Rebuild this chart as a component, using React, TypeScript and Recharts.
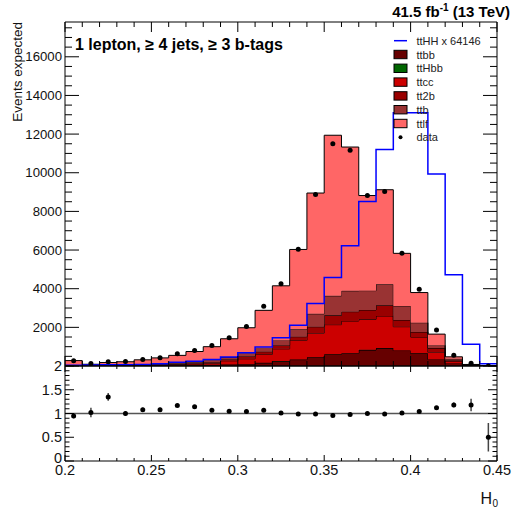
import { ComposedChart, Area, Line, XAxis, YAxis, ReferenceLine, ErrorBar } from "recharts"

const FONT = '"Liberation Sans", Arial, Helvetica, sans-serif'

// bin edges of H0 (25 bins)
const edges = [
  0.2, 0.21, 0.22, 0.23, 0.24, 0.25, 0.26, 0.27, 0.28, 0.29, 0.3, 0.31, 0.32,
  0.33, 0.34, 0.35, 0.36, 0.37, 0.38, 0.39, 0.4, 0.41, 0.42, 0.43, 0.44, 0.45,
]
const xLabels = [0.2, 0.25, 0.3, 0.35, 0.4, 0.45]
const yLabels = [2000, 4000, 6000, 8000, 10000, 12000, 14000, 16000]
const ratioLabels = [0, 0.5, 1, 1.5, 2]

// stacked backgrounds, per bin
const ttbb = [10, 8, 10, 12, 15, 20, 25, 35, 60, 80, 95, 165, 250, 330, 450, 600, 660, 830, 925, 800, 650, 340, 130, 20, 3]
const ttHbb = [0, 0, 0, 0, 0, 0, 0, 0, 1, 1, 1, 2, 3, 4, 5, 6, 6, 6, 6, 5, 4, 2, 1, 0, 0]
const ttcc = [15, 10, 15, 18, 25, 35, 50, 70, 84, 189, 279, 433, 637, 991, 1245, 1534, 1664, 1579, 1659, 1230, 846, 375, 104, 20, 3]
const tt2b = [5, 4, 5, 8, 10, 15, 20, 25, 55, 70, 135, 140, 190, 190, 330, 480, 480, 485, 550, 345, 260, 208, 65, 10, 2]
const ttb = [15, 13, 15, 17, 25, 30, 45, 60, 85, 120, 140, 170, 245, 385, 670, 1010, 1080, 1000, 1090, 730, 480, 140, 70, 10, 2]
const ttlf = [235, 55, 135, 165, 245, 320, 410, 560, 715, 950, 1330, 1970, 2825, 4130, 6250, 8310, 7440, 4920, 4890, 2720, 1560, 585, 105, 20, 2]

// signal, scaled x 64146
const ttHH = [40, 50, 60, 70, 80, 110, 200, 250, 340, 470, 680, 980, 1460, 2110, 3230, 4580, 6220, 8510, 11200, 13100, 13100, 9930, 4720, 1120, 110]

const data = [270, 130, 220, 230, 340, 425, 630, 800, 1065, 1465, 2050, 3090, 4250, 6040, 8870, 11500, 11160, 8820, 9030, 5840, 3970, 1860, 560, 145, 6]

const ratio = [0.95, 1.02, 1.35, 1.0, 1.08, 1.08, 1.17, 1.14, 1.07, 1.05, 1.04, 1.07, 1.01, 0.99, 0.99, 0.96, 0.98, 1.0, 0.99, 1.01, 1.04, 1.12, 1.18, 1.18, 0.5]
const ratioErr = [0.05, 0.1, 0.08, 0.05, 0.04, 0.04, 0.03, 0.03, 0.03, 0.02, 0.02, 0.02, 0.015, 0.01, 0.01, 0.01, 0.01, 0.01, 0.01, 0.01, 0.02, 0.03, 0.05, 0.13, 0.3]

const stack = [
  { key: "ttbb", color: "#660000" },
  { key: "ttHbb", color: "#006600" },
  { key: "ttcc", color: "#cc0000" },
  { key: "tt2b", color: "#990000" },
  { key: "ttb", color: "#993333" },
  { key: "ttlf", color: "#ff6666" },
]

const legendItems = [
  { name: "ttHH x 64146", kind: "line", color: "#0000ff" },
  { name: "ttbb", kind: "box", color: "#660000" },
  { name: "ttHbb", kind: "box", color: "#006600" },
  { name: "ttcc", kind: "box", color: "#cc0000" },
  { name: "tt2b", kind: "box", color: "#990000" },
  { name: "ttb", kind: "box", color: "#993333" },
  { name: "ttlf", kind: "box", color: "#ff6666" },
  { name: "data", kind: "dot", color: "#000" },
]

const last = edges.length - 2
const stackRows = edges.map((x, i) => {
  const j = Math.min(i, last)
  return {
    x,
    ttbb: ttbb[j],
    ttHbb: ttHbb[j],
    ttcc: ttcc[j],
    tt2b: tt2b[j],
    ttb: ttb[j],
    ttlf: ttlf[j],
    tthh: ttHH[j],
  }
})
const centers = edges.slice(0, -1).map((e, i) => (e + edges[i + 1]) / 2)
const dataRows = centers.map((x, i) => ({ x, y: data[i] }))
const ratioRows = centers.map((x, i) => ({ x, r: ratio[i], e: ratioErr[i] }))

const mainYTicks = Array.from({ length: 36 }, (_, i) => i * 500)
const ratioTicks = Array.from({ length: 21 }, (_, i) => i / 10)

const has = (arr: number[], v: number) => arr.some((a) => Math.abs(a - v) < 1e-9)
const isXMajor = (v: number) => has(xLabels, v)

type Side = "left" | "right" | "top" | "bottom"

function makeTick(
  side: Side,
  isMajor: (v: number) => boolean,
  majorLen: number,
  minorLen: number,
  labels: number[] | null,
  fontSize: number
) {
  return (props: any) => {
    const { x, y, payload } = props
    const v = payload.value
    const len = isMajor(v) ? majorLen : minorLen
    let x2 = x
    let y2 = y
    if (side === "left") x2 = x + len
    if (side === "right") x2 = x - len
    if (side === "bottom") y2 = y - len
    if (side === "top") y2 = y + len
    const show = labels && has(labels, v)
    // the lowest ratio label sits a little higher, clear of the x labels
    const ly = side === "left" && v === 0 ? y - 3 : y
    return (
      <g>
        <line x1={x} y1={y} x2={x2} y2={y2} stroke="#000" strokeWidth={1} />
        {show && side === "left" && (
          <text x={x - 3} y={ly} textAnchor="end" dominantBaseline="central" fontSize={fontSize} fontFamily={FONT} fill="#111">
            {String(v)}
          </text>
        )}
        {show && side === "bottom" && (
          <text x={x} y={y + 9} textAnchor="middle" dominantBaseline="central" fontSize={fontSize} fontFamily={FONT} fill="#111">
            {String(v)}
          </text>
        )}
      </g>
    )
  }
}

const axisBase = { tickSize: 0, tickMargin: 0, tickLine: false, interval: 0 as const, allowDataOverflow: true, axisLine: { stroke: "#000" } }

export default function App() {
  return (
    <div style={{ position: "absolute", left: 0, top: 0, width: 513, height: 514, background: "#fff" }}>
      <div style={{ position: "absolute", left: 0, top: 0 }}>
        <ComposedChart width={513} height={370} data={stackRows} margin={{ top: 21, right: 15, bottom: 3, left: 64 }}>
          <XAxis dataKey="x" type="number" domain={[0.2, 0.45]} ticks={edges} height={1}
            tick={makeTick("bottom", isXMajor, 10, 5, null, 14)} {...axisBase} />
          <XAxis xAxisId="t" orientation="top" dataKey="x" type="number" domain={[0.2, 0.45]} ticks={edges} height={1}
            tick={makeTick("top", isXMajor, 10, 5, null, 14)} {...axisBase} />
          <YAxis type="number" domain={[0, 17800]} ticks={mainYTicks} width={1}
            tick={makeTick("left", (v) => v % 2000 === 0, 14, 7, yLabels, 13.2)} {...axisBase} />
          <YAxis yAxisId="r" orientation="right" type="number" domain={[0, 17800]} ticks={mainYTicks} width={1}
            tick={makeTick("right", (v) => v % 2000 === 0, 14, 7, null, 13.2)} {...axisBase} />
          {stack.map((s) => (
            <Area key={s.key} type="stepAfter" dataKey={s.key} stackId="mc" fill={s.color} fillOpacity={1}
              stroke="#000" strokeWidth={1} isAnimationActive={false} />
          ))}
          <Line type="stepAfter" dataKey="tthh" stroke="#0000ff" strokeWidth={1.5} dot={false} isAnimationActive={false} />
          <Line data={dataRows} dataKey="y" stroke="none" dot={{ r: 2.5, fill: "#000", stroke: "none" }} isAnimationActive={false} />
        </ComposedChart>
      </div>
      <div style={{ position: "absolute", left: 0, top: 356 }}>
        <ComposedChart width={513} height={158} data={ratioRows} margin={{ top: 9, right: 15, bottom: 52, left: 64 }}>
          <XAxis dataKey="x" type="number" domain={[0.2, 0.45]} ticks={edges} height={1}
            tick={makeTick("bottom", isXMajor, 6, 3, xLabels, 14.5)} {...axisBase} />
          <XAxis xAxisId="t" orientation="top" dataKey="x" type="number" domain={[0.2, 0.45]} ticks={edges} height={1}
            tick={makeTick("top", isXMajor, 6, 3, null, 14.5)} {...axisBase} />
          <YAxis type="number" domain={[0, 2]} ticks={ratioTicks} width={1}
            tick={makeTick("left", (v) => has(ratioLabels, v), 9, 4.5, ratioLabels, 14.5)} {...axisBase} />
          <YAxis yAxisId="r" orientation="right" type="number" domain={[0, 2]} ticks={ratioTicks} width={1}
            tick={makeTick("right", (v) => has(ratioLabels, v), 9, 4.5, null, 14.5)} {...axisBase} />
          <ReferenceLine y={1} stroke="#555" strokeWidth={1.5} />
          <Line dataKey="r" stroke="none" dot={{ r: 2.5, fill: "#000", stroke: "none" }} isAnimationActive={false}>
            <ErrorBar dataKey="e" direction="y" width={0} stroke="#444" strokeWidth={1.5} />
          </Line>
        </ComposedChart>
      </div>
      <svg width={513} height={514} style={{ position: "absolute", left: 0, top: 0, pointerEvents: "none" }}>
        <text x={510} y={17} textAnchor="end" fontSize={15} fontWeight="bold" fontFamily={FONT}>
          41.5 fb<tspan dy={-6} fontSize={10}>-1</tspan>
          <tspan dy={6}> (13 TeV)</tspan>
        </text>
        <text x={75} y={50} fontSize={16} fontWeight="bold" fontFamily={FONT}>
          1 lepton, ≥ 4 jets, ≥ 3 b-tags
        </text>
        <text transform="translate(21.5,22) rotate(-90)" textAnchor="end" fontSize={13.5} fontFamily={FONT} fill="#111">
          Events expected
        </text>
        <text x={492} y={504} textAnchor="end" fontSize={16} fontFamily={FONT} fill="#111">
          H
        </text>
        <text x={492.5} y={507} fontSize={10} fontFamily={FONT} fill="#111">
          0
        </text>
        {legendItems.map((it, i) => {
          const cy = 40.7 + i * 13.8
          return (
            <g key={it.name}>
              {it.kind === "line" && <line x1={394} y1={cy} x2={407} y2={cy} stroke={it.color} strokeWidth={1.5} />}
              {it.kind === "box" && <rect x={394} y={cy - 4.2} width={13} height={8.4} fill={it.color} stroke="#000" strokeWidth={1} />}
              {it.kind === "dot" && <circle cx={400.5} cy={cy} r={2} fill="#000" />}
              <text x={416.5} y={cy} dominantBaseline="central" fontSize={11} fontFamily={FONT} fill="#222">
                {it.name}
              </text>
            </g>
          )
        })}
      </svg>
    </div>
  )
}
